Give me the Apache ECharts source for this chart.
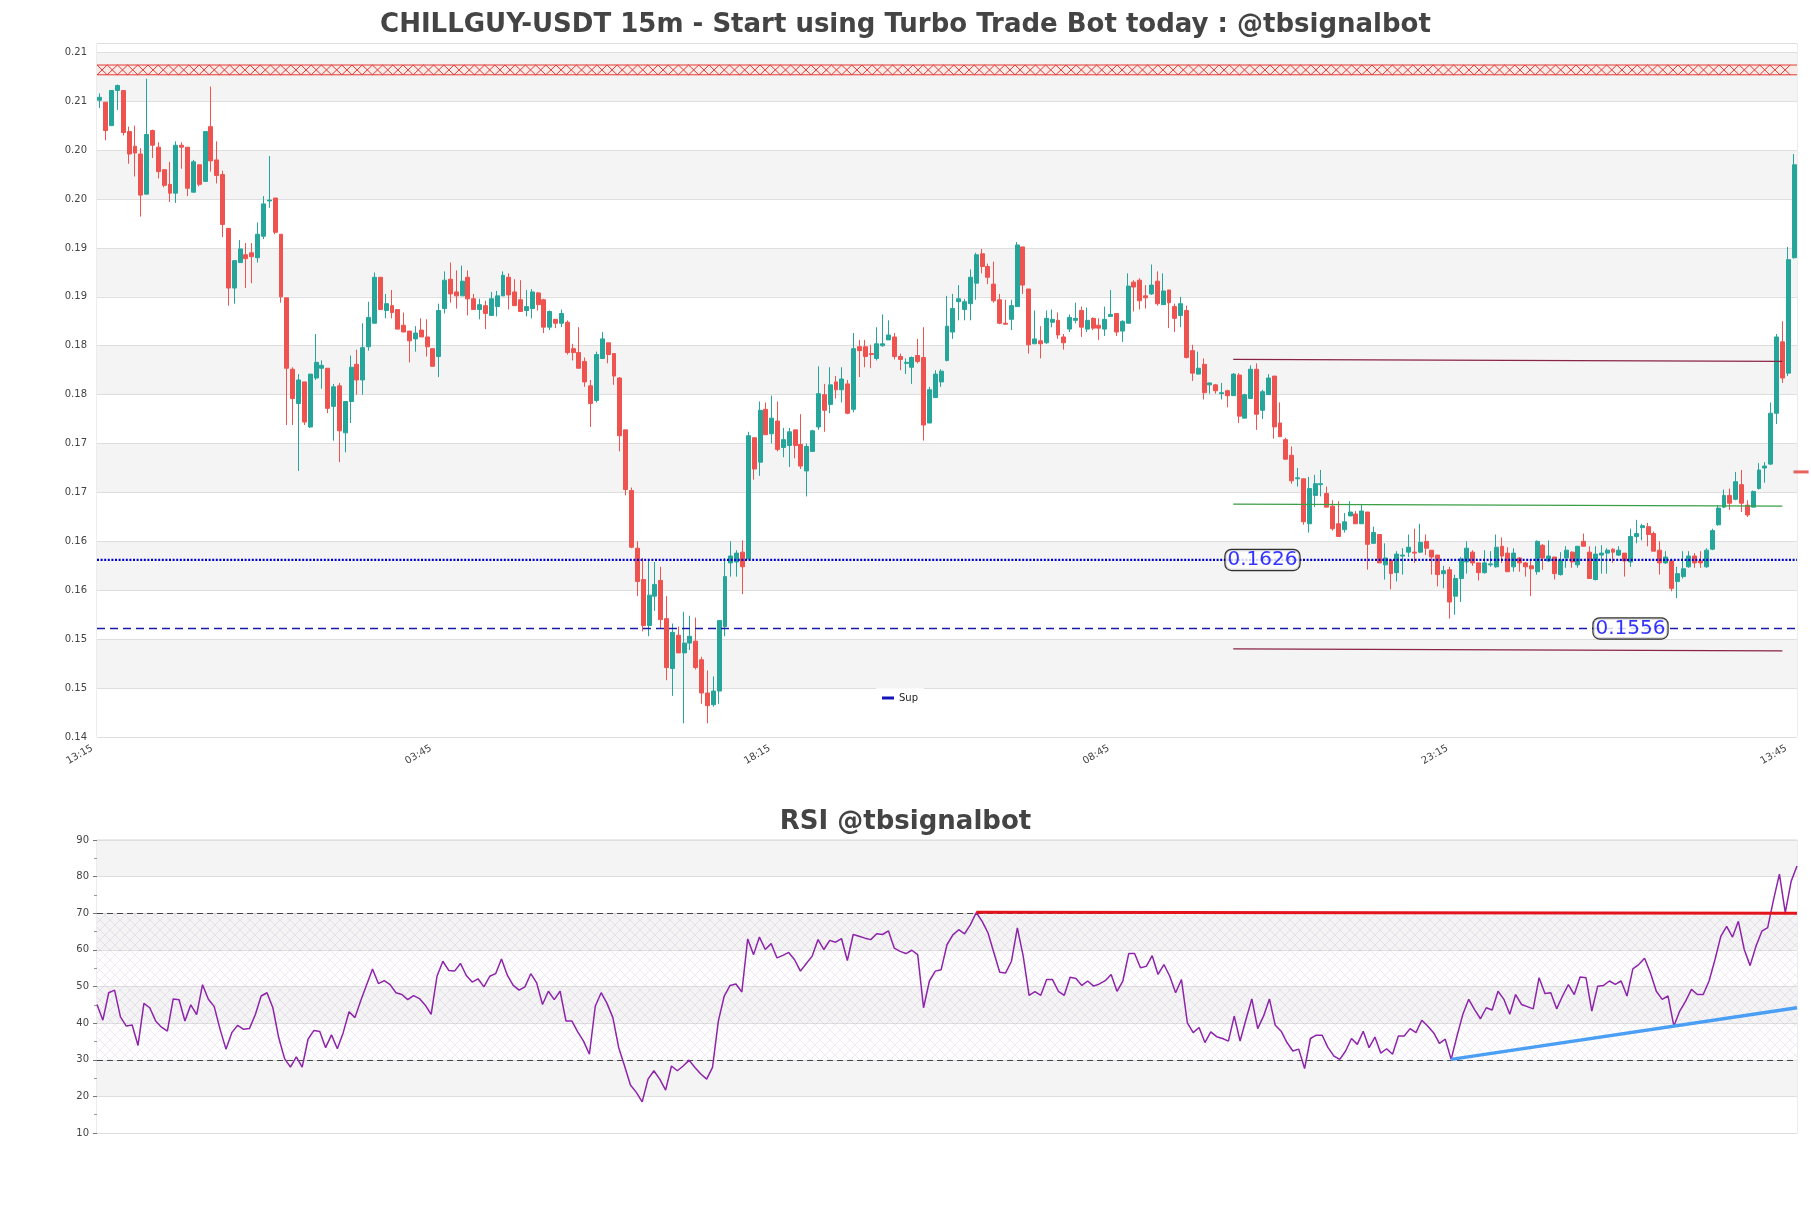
<!DOCTYPE html>
<html>
<head>
<meta charset="utf-8">
<script src="https://cdn.jsdelivr.net/npm/echarts@6/dist/echarts.min.js"></script>
<style>html,body{margin:0;padding:0;background:#fff;}#chart{width:1811px;height:1208px;}</style>
</head>
<body>
<div id="chart"></div>
<script>
// ---------------- DATA ----------------
const startHour = 13, startMinute = 15, stepMinutes = 15;
const tickIndex = [0, 58, 116, 174, 232, 290];
const tickLabels = ['13:15', '03:45', '18:15', '08:45', '23:15', '13:45'];

const opens = [
.2096,.2094,.2070,.2106,.2106,.2064,.2049,.2041,.2000,.2065,
.2048,.2025,.2010,.2001,.2050,.2048,.2002,.2030,.2013,.2069,
.2035,.2020,.1965,.1904,.1930,.1938,.1940,.1935,.1957,.1993,
.1996,.1959,.1894,.1821,.1786,.1808,.1762,.1812,.1822,.1822,
.1783,.1804,.1756,.1788,.1826,.1810,.1844,.1868,.1915,.1881,
.1886,.1882,.1866,.1860,.1852,.1861,.1854,.1842,.1834,.1883,
.1913,.1900,.1896,.1915,.1893,.1882,.1886,.1876,.1885,.1896,
.1915,.1900,.1892,.1881,.1883,.1899,.1892,.1864,.1872,.1868,
.1869,.1842,.1838,.1829,.1804,.1789,.1832,.1848,.1837,.1812,
.1759,.1697,.1638,.1606,.1559,.1589,.1605,.1566,.1515,.1549,
.1531,.1541,.1543,.1524,.1490,.1478,.1492,.1558,.1623,.1624,
.1634,.1627,.1751,.1726,.1780,.1755,.1768,.1741,.1743,.1759,
.1744,.1717,.1737,.1762,.1795,.1785,.1808,.1800,.1806,.1780,
.1844,.1844,.1837,.1832,.1845,.1851,.1854,.1834,.1827,.1823,
.1835,.1833,.1766,.1792,.1808,.1830,.1859,.1890,.1882,.1888,
.1909,.1939,.1926,.1908,.1892,.1868,.1872,.1885,.1946,.1903,
.1847,.1850,.1848,.1869,.1871,.1854,.1862,.1871,.1881,.1862,
.1873,.1866,.1862,.1875,.1878,.1860,.1868,.1910,.1912,.1896,
.1898,.1911,.1887,.1902,.1885,.1876,.1881,.1840,.1816,.1826,
.1805,.1805,.1796,.1799,.1794,.1815,.1771,.1791,.1821,.1779,
.1795,.1814,.1766,.1749,.1733,.1709,.1709,.1663,.1692,.1703,
.1694,.1681,.1663,.1657,.1671,.1673,.1663,.1675,.1643,.1652,
.1621,.1626,.1613,.1630,.1634,.1634,.1634,.1645,.1636,.1631,
.1612,.1616,.1589,.1607,.1624,.1634,.1623,.1613,.1621,.1619,
.1640,.1633,.1619,.1628,.1623,.1620,.1614,.1641,.1625,.1629,
.1611,.1628,.1634,.1621,.1645,.1634,.1606,.1631,.1633,.1637,
.1631,.1633,.1624,.1650,.1659,.1660,.1653,.1636,.1623,.1625,
.1604,.1609,.1619,.1630,.1625,.1619,.1637,.1662,.1680,.1692,
.1688,.1703,.1682,.1680,.1699,.1720,.1724,.1776,.1849,.1817,
.1935];

const highs = [
.2103,.2094,.2106,.2112,.2106,.2069,.2070,.2047,.2118,.2066,
.2053,.2025,.2033,.2054,.2053,.2048,.2035,.2030,.2064,.2110,
.2054,.2024,.1965,.1932,.1953,.1950,.1950,.1971,.1998,.2039,
.1996,.1959,.1894,.1823,.1816,.1808,.1816,.1857,.1830,.1822,
.1806,.1807,.1788,.1835,.1841,.1868,.1890,.1920,.1915,.1898,
.1902,.1882,.1879,.1860,.1865,.1873,.1872,.1842,.1888,.1921,
.1930,.1922,.1927,.1922,.1898,.1893,.1891,.1900,.1901,.1921,
.1919,.1913,.1912,.1902,.1903,.1900,.1893,.1881,.1872,.1882,
.1871,.1847,.1864,.1833,.1810,.1839,.1859,.1848,.1837,.1813,
.1759,.1700,.1645,.1628,.1626,.1624,.1619,.1589,.1561,.1558,
.1573,.1569,.1567,.1527,.1513,.1507,.1564,.1628,.1645,.1636,
.1646,.1757,.1751,.1788,.1787,.1794,.1788,.1761,.1761,.1759,
.1775,.1745,.1759,.1824,.1806,.1823,.1814,.1823,.1810,.1858,
.1851,.1851,.1846,.1864,.1877,.1871,.1858,.1837,.1832,.1834,
.1852,.1864,.1803,.1820,.1821,.1896,.1898,.1907,.1893,.1923,
.1940,.1944,.1929,.1931,.1898,.1892,.1892,.1951,.1946,.1903,
.1881,.1865,.1881,.1882,.1879,.1857,.1877,.1889,.1885,.1884,
.1874,.1873,.1885,.1902,.1878,.1871,.1919,.1912,.1914,.1907,
.1928,.1921,.1919,.1902,.1888,.1895,.1886,.1846,.1839,.1832,
.1807,.1806,.1807,.1800,.1817,.1817,.1796,.1825,.1827,.1800,
.1816,.1814,.1787,.1751,.1742,.1720,.1709,.1711,.1713,.1718,
.1701,.1687,.1686,.1674,.1686,.1676,.1683,.1675,.1660,.1652,
.1643,.1626,.1635,.1638,.1652,.1658,.1663,.1652,.1636,.1631,
.1620,.1619,.1611,.1629,.1645,.1636,.1623,.1636,.1635,.1652,
.1649,.1639,.1638,.1629,.1624,.1625,.1646,.1642,.1646,.1629,
.1634,.1640,.1635,.1640,.1653,.1640,.1640,.1641,.1638,.1638,
.1640,.1633,.1658,.1667,.1663,.1664,.1655,.1645,.1635,.1626,
.1619,.1635,.1635,.1633,.1635,.1638,.1658,.1682,.1698,.1699,
.1716,.1718,.1687,.1697,.1725,.1726,.1787,.1857,.1870,.1946,
.2041];

const lows = [
.2088,.2055,.2070,.2086,.2060,.2031,.2018,.1977,.2000,.2037,
.2016,.2007,.1992,.1991,.2026,.1998,.2002,.2008,.2013,.2023,
.2011,.1956,.1886,.1888,.1930,.1904,.1909,.1930,.1954,.1986,
.1959,.1889,.1764,.1764,.1717,.1764,.1761,.1810,.1801,.1776,
.1748,.1726,.1736,.1766,.1795,.1795,.1840,.1868,.1882,.1873,
.1873,.1862,.1859,.1828,.1839,.1854,.1834,.1824,.1813,.1878,
.1889,.1883,.1896,.1876,.1882,.1872,.1862,.1876,.1875,.1896,
.1882,.1886,.1880,.1875,.1873,.1881,.1858,.1861,.1863,.1864,
.1836,.1830,.1822,.1803,.1762,.1787,.1832,.1827,.1805,.1737,
.1692,.1638,.1589,.1553,.1548,.1574,.1556,.1503,.1487,.1531,
.1459,.1534,.1514,.1479,.1459,.1476,.1479,.1548,.1609,.1609,
.1591,.1627,.1708,.1712,.1754,.1745,.1737,.1731,.1721,.1730,
.1719,.1691,.1737,.1759,.1757,.1776,.1791,.1787,.1775,.1777,
.1813,.1823,.1822,.1830,.1844,.1851,.1831,.1820,.1816,.1806,
.1827,.1748,.1766,.1792,.1803,.1829,.1852,.1871,.1871,.1871,
.1892,.1919,.1908,.1889,.1867,.1867,.1861,.1885,.1898,.1837,
.1847,.1832,.1847,.1864,.1852,.1841,.1859,.1868,.1854,.1859,
.1861,.1851,.1855,.1875,.1855,.1849,.1868,.1880,.1882,.1883,
.1897,.1886,.1887,.1863,.1859,.1864,.1832,.1809,.1816,.1790,
.1796,.1796,.1790,.1782,.1794,.1766,.1771,.1791,.1759,.1770,
.1795,.1750,.1752,.1729,.1704,.1701,.1662,.1654,.1680,.1691,
.1680,.1656,.1650,.1654,.1671,.1663,.1663,.1616,.1643,.1623,
.1606,.1596,.1604,.1611,.1629,.1623,.1633,.1631,.1611,.1599,
.1597,.1566,.1570,.1583,.1612,.1620,.1605,.1612,.1619,.1618,
.1623,.1614,.1614,.1614,.1609,.1589,.1611,.1616,.1624,.1606,
.1610,.1618,.1618,.1618,.1640,.1607,.1605,.1612,.1612,.1623,
.1630,.1609,.1619,.1643,.1646,.1640,.1635,.1611,.1622,.1594,
.1587,.1607,.1618,.1618,.1618,.1618,.1636,.1661,.1679,.1677,
.1687,.1675,.1670,.1680,.1698,.1705,.1723,.1765,.1807,.1814,
.1934];

const closes = [
.2099,.2065,.2106,.2111,.2063,.2041,.2042,.1999,.2061,.2050,
.2023,.2009,.2001,.2050,.2048,.2006,.2033,.2010,.2064,.2034,
.2019,.1969,.1904,.1932,.1944,.1934,.1936,.1959,.1990,.1994,
.1961,.1895,.1822,.1791,.1810,.1767,.1816,.1828,.1825,.1781,
.1803,.1758,.1788,.1823,.1810,.1843,.1874,.1915,.1882,.1888,
.1879,.1862,.1859,.1850,.1858,.1854,.1844,.1824,.1881,.1912,
.1898,.1896,.1911,.1893,.1882,.1887,.1878,.1893,.1896,.1917,
.1897,.1886,.1880,.1885,.1900,.1887,.1864,.1880,.1868,.1878,
.1838,.1838,.1822,.1808,.1786,.1836,.1852,.1836,.1814,.1753,
.1698,.1639,.1604,.1559,.1590,.1601,.1565,.1516,.1552,.1531,
.1541,.1548,.1516,.1490,.1477,.1492,.1564,.1609,.1630,.1633,
.1619,.1753,.1719,.1779,.1754,.1771,.1739,.1749,.1757,.1743,
.1722,.1742,.1758,.1796,.1779,.1805,.1800,.1811,.1776,.1842,
.1840,.1834,.1836,.1847,.1847,.1856,.1834,.1831,.1828,.1833,
.1829,.1764,.1800,.1816,.1819,.1865,.1883,.1893,.1890,.1915,
.1938,.1926,.1915,.1891,.1868,.1867,.1886,.1948,.1907,.1846,
.1852,.1847,.1873,.1872,.1856,.1848,.1874,.1873,.1864,.1871,
.1863,.1863,.1872,.1877,.1859,.1870,.1906,.1905,.1891,.1894,
.1907,.1888,.1901,.1889,.1873,.1888,.1833,.1817,.1822,.1797,
.1807,.1799,.1797,.1794,.1816,.1773,.1795,.1821,.1775,.1798,
.1812,.1762,.1752,.1729,.1707,.1710,.1665,.1699,.1704,.1704,
.1680,.1658,.1650,.1665,.1675,.1663,.1676,.1642,.1654,.1623,
.1628,.1612,.1632,.1631,.1639,.1633,.1644,.1638,.1629,.1611,
.1615,.1583,.1607,.1627,.1638,.1623,.1613,.1623,.1622,.1639,
.1630,.1614,.1633,.1623,.1619,.1617,.1645,.1628,.1630,.1612,
.1626,.1636,.1624,.1640,.1640,.1607,.1632,.1633,.1636,.1634,
.1636,.1625,.1650,.1653,.1661,.1652,.1635,.1623,.1629,.1597,
.1612,.1617,.1630,.1623,.1623,.1636,.1656,.1679,.1692,.1684,
.1706,.1684,.1672,.1696,.1718,.1722,.1776,.1854,.1812,.1933,
.2030];

const rsi = [
45.1,40.8,48.3,49.0,41.7,39.2,39.5,33.9,45.4,44.2,
40.6,38.9,37.8,46.6,46.4,40.6,45.0,42.3,50.5,46.5,
44.5,38.3,32.9,37.4,39.4,38.3,38.5,42.3,47.4,48.3,
44.2,36.0,30.3,28.0,30.8,28.0,35.6,38.0,37.7,33.3,
36.8,33.0,37.4,43.1,41.5,46.2,50.5,54.8,50.8,51.6,
50.5,48.3,47.8,46.4,47.5,46.7,44.9,42.4,52.8,56.9,
54.4,54.2,56.3,53.0,51.2,52.1,49.9,52.8,53.5,57.5,
53.1,50.3,49.0,49.9,53.5,51.0,45.1,48.7,46.4,48.7,
40.6,40.6,37.6,35.1,31.5,44.6,48.3,45.4,41.5,33.3,
28.3,23.1,21.1,18.5,24.7,27.0,24.7,21.7,28.3,27.0,
28.3,29.9,27.9,26.1,24.7,27.9,40.6,47.4,50.3,50.7,
48.5,63.0,58.7,63.5,60.1,61.7,57.8,58.5,59.3,57.3,
54.2,56.3,58.3,62.8,60.1,62.6,62.1,63.1,57.1,64.2,
63.7,63.2,62.8,64.4,64.2,65.2,60.5,59.6,
59.0,59.9,58.7,44.2,51.5,54.2,54.6,61.4,64.1,65.5,
64.4,66.9,70.2,67.8,64.6,59.2,53.9,53.7,56.9,66.0,
58.3,47.6,48.6,47.6,51.9,51.9,48.7,47.6,52.5,52.2,
50.3,51.5,50.1,50.7,51.6,53.3,48.7,51.5,59.0,59.0,
55.1,55.5,58.4,53.3,56.0,52.8,48.3,51.9,40.1,37.4,
38.8,34.7,37.6,36.3,35.8,35.1,41.9,35.1,41.0,46.6,
38.5,41.9,46.6,39.4,37.8,34.7,32.4,32.9,27.6,35.8,
36.7,36.7,33.3,31.0,30.1,32.4,35.8,34.2,37.8,33.3,
36.2,31.8,33.0,31.5,36.5,36.5,38.5,37.4,40.8,39.2,
37.4,34.5,35.6,30.1,36.5,42.4,46.5,43.7,41.2,44.2,
43.6,48.7,46.5,42.4,47.8,45.1,44.5,43.9,52.4,48.1,
48.3,43.9,47.4,50.5,47.8,52.6,52.4,43.3,50.1,50.3,
51.5,50.6,51.5,47.4,54.8,56.0,57.7,53.7,48.7,46.5,
47.4,39.2,43.3,46.0,49.2,47.8,47.8,51.5,57.3,63.7,
66.4,63.5,67.8,60.1,55.7,61.0,65.1,66.1,73.7,80.7,
70.2,78.7,82.9];

// levels and drawn lines (category index, value)
const supLevels = [0.1626, 0.1556];
const supLabelIdx = [199, 262];
const resistanceZone = [0.2122, 0.2132];
const upperChannel = [[194, 0.1831], [288, 0.1829]];
const midChannel = [[194, 0.1683], [288, 0.1681]];
const lowerChannel = [[194, 0.1535], [288, 0.1533]];
const lastMarker = [290, 0.1716];
const rsiResLine = [[150, 70.3], [290, 70.0]];
const rsiSupLine = [[231, 30.1], [290, 44.2]];
const rsiBands = [30, 70];

// ---------------- BUILD ----------------
function pad(n) { return (n < 10 ? '0' : '') + n; }
const categories = opens.map(function (_, i) {
  const t = (startHour * 60 + startMinute + i * stepMinutes) % 1440;
  return pad(Math.floor(t / 60)) + ':' + pad(t % 60);
});
const candleData = opens.map(function (o, i) { return [o, closes[i], lows[i], highs[i]]; });

function makeHatch(size, color, lw) {
  const c = document.createElement('canvas');
  c.width = size; c.height = size;
  const g = c.getContext('2d');
  g.strokeStyle = color; g.lineWidth = lw;
  g.beginPath();
  g.moveTo(0, 0); g.lineTo(size, size);
  g.moveTo(size, 0); g.lineTo(0, size);
  g.stroke();
  return c;
}
const rsiHatch = makeHatch(10, 'rgba(150,110,185,0.26)', 0.6);

const FONT = 'DejaVu Sans';
const chart = echarts.init(document.getElementById('chart'), null, {renderer: 'canvas'});

const levelStyles = [
  {stroke: '#0000cc', lineWidth: 2.2, lineDash: [2, 1.6], fill: null},
  {stroke: '#1a1aa8', lineWidth: 1.4, lineDash: [8, 5], fill: null}
];

const option = {
  animation: false,
  backgroundColor: '#ffffff',
  textStyle: {fontFamily: FONT},
  title: [
    {text: 'CHILLGUY-USDT 15m - Start using Turbo Trade Bot today : @tbsignalbot', left: 'center', top: 7,
     textStyle: {fontSize: 26, fontWeight: 'bold', color: '#444444', fontFamily: FONT}},
    {text: 'RSI @tbsignalbot', left: 'center', top: 804,
     textStyle: {fontSize: 26, fontWeight: 'bold', color: '#444444', fontFamily: FONT}}
  ],
  legend: {
    data: ['Sup'], left: 876, top: 688, icon: 'rect', itemWidth: 12, itemHeight: 3, itemGap: 6,
    padding: [5, 6], backgroundColor: 'rgba(255,255,255,0.85)',
    textStyle: {fontSize: 10, color: '#222', fontFamily: FONT}
  },
  grid: [
    {left: 97, right: 14, top: 43.5, height: 693.5, show: true, borderColor: '#d9d9d9', borderWidth: 1},
    {left: 97, right: 14, top: 840, height: 293, show: true, borderColor: '#d9d9d9', borderWidth: 1}
  ],
  xAxis: [
    {type: 'category', gridIndex: 0, data: categories, boundaryGap: true,
     axisLine: {show: false}, axisTick: {show: false}, splitLine: {show: false},
     axisLabel: {interval: function (idx) { return tickIndex.indexOf(idx) >= 0; },
       formatter: function (v, idx) { const k = tickIndex.indexOf(idx); return k >= 0 ? tickLabels[k] : v; },
       rotate: 30, fontSize: 10, color: '#444', margin: 6, padding: [0, 9, 0, 0], fontFamily: FONT}},
    {type: 'category', gridIndex: 1, data: categories, boundaryGap: false,
     axisLine: {show: false}, axisTick: {show: false}, axisLabel: {show: false}, splitLine: {show: false}}
  ],
  yAxis: [
    {type: 'value', gridIndex: 0, min: 0.1445, max: 0.2154, interval: 0.005, scale: true,
     axisLine: {show: false}, axisTick: {show: false},
     axisLabel: {formatter: function (v) { return v > 0.2150 ? '' : v.toFixed(2); }, fontSize: 10, color: '#444', margin: 10, fontFamily: FONT},
     splitLine: {lineStyle: {color: '#dedede', width: 1}},
     splitArea: {show: true, areaStyle: {color: ['#ffffff', '#f4f4f4']}}},
    {type: 'value', gridIndex: 1, min: 10, max: 90, interval: 10,
     axisLine: {show: false},
     axisTick: {show: true, length: 4, lineStyle: {color: '#777'}},
     minorTick: {show: true, splitNumber: 2, length: 3, lineStyle: {color: '#999'}},
     axisLabel: {fontSize: 10, color: '#444', margin: 8, fontFamily: FONT},
     splitLine: {lineStyle: {color: '#dedede', width: 1}},
     splitArea: {show: true, areaStyle: {color: ['#ffffff', '#f4f4f4']}}}
  ],
  series: [
    {
      type: 'custom', name: 'zone', xAxisIndex: 0, yAxisIndex: 0, silent: true, z: 3,
      data: [[0, resistanceZone[0], resistanceZone[1]]],
      encode: {x: 0, y: [1, 2]},
      renderItem: function (params, api) {
        const cs = params.coordSys;
        const yLow = api.coord([0, api.value(1)])[1];
        const yHigh = api.coord([0, api.value(2)])[1];
        const step = 10.2;
        const left = cs.x, right = cs.x + cs.width;
        const a = [], b = [];
        let k = 0;
        for (let x = left; x <= right + 0.01; x += step, k++) {
          a.push([x, k % 2 ? yLow : yHigh]);
          b.push([x, k % 2 ? yHigh : yLow]);
        }
        const st = {stroke: '#e53935', lineWidth: 1, fill: null};
        return {type: 'group', children: [
          {type: 'rect', shape: {x: left, y: yHigh, width: cs.width, height: yLow - yHigh}, style: {fill: 'rgba(255,225,215,0.45)'}},
          {type: 'polyline', shape: {points: a}, style: st},
          {type: 'polyline', shape: {points: b}, style: st},
          {type: 'line', shape: {x1: left, y1: yHigh, x2: right, y2: yHigh}, style: st},
          {type: 'line', shape: {x1: left, y1: yLow, x2: right, y2: yLow}, style: st}
        ]};
      }
    },
    {
      type: 'candlestick', name: 'price', xAxisIndex: 0, yAxisIndex: 0, z: 5,
      data: candleData, barWidth: '76%',
      itemStyle: {color: '#26a69a', color0: '#ef5350', borderColor: '#26a69a', borderColor0: '#ef5350', borderWidth: 1}
    },
    {
      type: 'custom', name: 'levels', xAxisIndex: 0, yAxisIndex: 0, silent: true, z: 6,
      data: supLevels.map(function (v, i) { return [0, v, i]; }),
      encode: {x: 0, y: 1},
      renderItem: function (params, api) {
        const cs = params.coordSys;
        const y = api.coord([0, api.value(1)])[1];
        return {type: 'line', shape: {x1: cs.x, y1: y, x2: cs.x + cs.width, y2: y},
                style: levelStyles[api.value(2)]};
      }
    },
    {
      type: 'line', name: 'Sup', xAxisIndex: 0, yAxisIndex: 0, data: [], z: 6,
      itemStyle: {color: '#1414b8'}, lineStyle: {color: '#1414b8'}
    },
    {
      type: 'line', name: 'upper', xAxisIndex: 0, yAxisIndex: 0, data: upperChannel, symbol: 'none', z: 6,
      lineStyle: {color: '#8a2444', width: 1.2}
    },
    {
      type: 'line', name: 'mid', xAxisIndex: 0, yAxisIndex: 0, data: midChannel, symbol: 'none', z: 6,
      lineStyle: {color: '#3a9e45', width: 1.2}
    },
    {
      type: 'line', name: 'lower', xAxisIndex: 0, yAxisIndex: 0, data: lowerChannel, symbol: 'none', z: 6,
      lineStyle: {color: '#8a2444', width: 1.2}
    },
    {
      type: 'scatter', name: 'levelLabels', xAxisIndex: 0, yAxisIndex: 0, z: 8, silent: true,
      data: [[supLabelIdx[0], supLevels[0]], [supLabelIdx[1], supLevels[1]]],
      symbolSize: 1, itemStyle: {color: 'rgba(0,0,0,0)'},
      label: {show: true, position: 'inside', formatter: function (p) { return p.value[1].toFixed(4); },
        fontSize: 20, color: '#0000ff', fontFamily: FONT, backgroundColor: '#ffffff',
        borderColor: '#000000', borderWidth: 1.2, borderRadius: 6, padding: [0, 2, 0, 2]}
    },
    {
      type: 'scatter', name: 'mark', xAxisIndex: 0, yAxisIndex: 0, z: 9, silent: true, clip: false,
      data: [lastMarker], symbol: 'rect', symbolSize: [15, 3], symbolOffset: [7, 0],
      itemStyle: {color: '#e53935'}
    },
    {
      type: 'line', name: 'RSI', xAxisIndex: 1, yAxisIndex: 1, data: rsi, symbol: 'none', z: 5,
      lineStyle: {color: '#8e24aa', width: 1.5},
      markArea: {silent: true, itemStyle: {color: {image: rsiHatch, repeat: 'repeat'}},
        data: [[{yAxis: rsiBands[0]}, {yAxis: rsiBands[1]}]]},
      markLine: {silent: true, symbol: ['none', 'none'], label: {show: false},
        lineStyle: {color: '#444', width: 1, type: [6, 4]},
        data: [{yAxis: rsiBands[1]}, {yAxis: rsiBands[0]}]}
    },
    {
      type: 'line', name: 'rsiRes', xAxisIndex: 1, yAxisIndex: 1, data: rsiResLine, symbol: 'none', z: 6,
      lineStyle: {color: '#e3141c', width: 3}
    },
    {
      type: 'line', name: 'rsiSup', xAxisIndex: 1, yAxisIndex: 1, data: rsiSupLine, symbol: 'none', z: 6,
      lineStyle: {color: '#4a9ff5', width: 3.5}
    }
  ]
};
chart.setOption(option);
</script>
</body>
</html>
